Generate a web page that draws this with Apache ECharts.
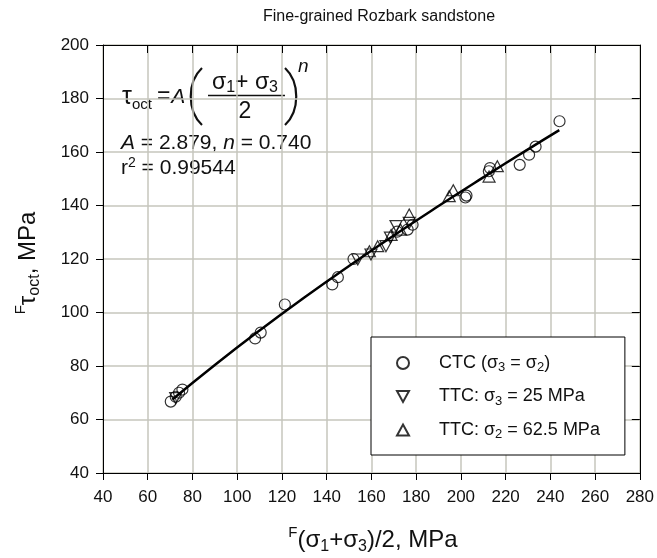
<!DOCTYPE html>
<html>
<head>
<meta charset="utf-8">
<script src="https://cdn.jsdelivr.net/npm/echarts@6/dist/echarts.min.js"></script>
<style>html,body{margin:0;padding:0;background:#fff}#c{width:657px;height:558px}</style>
</head>
<body>
<div id="c"></div>
<script>
// ---- data ----
const ctcX = [70.3, 72.5, 74, 75.5, 108, 110.5, 121.3, 142.5, 145, 152, 171.5, 176.2, 178.4, 202, 202.5, 212.5, 213, 226.3, 230.5, 233.4, 244.1];
const ctcY = [66.7, 68.5, 70, 71.2, 90.3, 92.5, 103, 110.5, 113.2, 120, 130.2, 131, 132.8, 143, 143.7, 152.8, 154, 155.2, 159, 162, 171.5];
const ttc25X = [72.5, 153.9, 159.8, 166.5, 168.5, 171, 176.9];
const ttc25Y = [68, 119.8, 121.7, 124.8, 128, 132.3, 133.5];
const ttc625X = [159.1, 162.8, 168.8, 173, 176.9, 194.8, 196.6, 212.6, 216.3];
const ttc625Y = [122.9, 124.8, 129, 131, 136.6, 143.5, 145.7, 150.8, 154.7];
const fitX = [71, 90, 110, 130, 150, 170, 190, 210, 230, 244];
const fitY = [67.5, 80.4, 93.3, 105.6, 117.4, 128.8, 139.8, 150.5, 161.0, 168.2];
const xTicks = [40, 60, 80, 100, 120, 140, 160, 180, 200, 220, 240, 260, 280];
const yTicks = [40, 60, 80, 100, 120, 140, 160, 180, 200];

const zip = (a, b) => a.map((v, i) => [v, b[i]]);
const FONT = 'Liberation Sans, Arial, sans-serif';
const TXT = '#111';
const downTri = 'path://M0,0L10,0L5,9Z';
const upTri = 'path://M5,0L10,9L0,9Z';

const chart = echarts.init(document.getElementById('c'));
const gridColor = '#c6c6bc';

const baseX = { type: 'value', min: xTicks[0], max: xTicks[xTicks.length - 1], interval: 20 };
const baseY = { type: 'value', min: yTicks[0], max: yTicks[yTicks.length - 1], interval: 20 };

const legendRich = {
  a: { fontSize: 18, fontFamily: FONT, color: TXT, lineHeight: 22 },
  s: { fontSize: 13, fontFamily: FONT, color: TXT, verticalAlign: 'bottom', lineHeight: 12 }
};
const legendNames = {
  'CTC': '{a|CTC (σ}{s|3}{a| = σ}{s|2}{a|)}',
  'TTC25': '{a|TTC: σ}{s|3}{a| = 25 MPa}',
  'TTC625': '{a|TTC: σ}{s|2}{a| = 62.5 MPa}'
};

const option = {
  backgroundColor: '#fff',
  animation: false,
  title: {
    text: 'Fine-grained Rozbark sandstone',
    left: 374, top: 4, textAlign: 'center',
    textStyle: { fontFamily: FONT, fontSize: 16, fontWeight: 'normal', color: TXT }
  },
  grid: { left: 103, right: 16, top: 45, bottom: 85 },
  xAxis: [
    Object.assign({}, baseX, {
      position: 'bottom',
      axisLine: { show: true, lineStyle: { color: '#000', width: 1 } },
      axisTick: { show: true, inside: false, length: 7, lineStyle: { color: '#000' } },
      axisLabel: { fontFamily: FONT, fontSize: 17, color: TXT, margin: 16 },
      splitLine: { show: true, lineStyle: { color: gridColor, width: 1.5 } }
    }),
    Object.assign({}, baseX, {
      position: 'top',
      axisLine: { show: true, lineStyle: { color: '#000', width: 1 } },
      axisTick: { show: true, inside: true, length: 8, lineStyle: { color: '#000' } },
      axisLabel: { show: false },
      splitLine: { show: false }
    })
  ],
  yAxis: [
    Object.assign({}, baseY, {
      position: 'left',
      axisLine: { show: true, lineStyle: { color: '#000', width: 1 } },
      axisTick: { show: true, inside: false, length: 7, lineStyle: { color: '#000' } },
      axisLabel: { fontFamily: FONT, fontSize: 17, color: TXT, margin: 14 },
      splitLine: { show: true, lineStyle: { color: gridColor, width: 1.5 } }
    }),
    Object.assign({}, baseY, {
      position: 'right',
      axisLine: { show: true, lineStyle: { color: '#000', width: 1 } },
      axisTick: { show: true, inside: true, length: 8, lineStyle: { color: '#000' } },
      axisLabel: { show: false },
      splitLine: { show: false }
    })
  ],
  legend: {
    data: ['CTC', 'TTC25', 'TTC625'],
    orient: 'vertical',
    left: 371, top: 337,
    padding: [17, 25, 14, 25],
    itemGap: 13.5,
    itemWidth: 12, itemHeight: 12,
    backgroundColor: '#fff',
    borderColor: '#000', borderWidth: 1, borderRadius: 0,
    formatter: n => legendNames[n],
    textStyle: { rich: legendRich, padding: [0, 0, 0, 25] }
  },
  series: [
    {
      name: 'fit', type: 'line', data: zip(fitX, fitY), smooth: true,
      showSymbol: false, symbol: 'none', z: 2,
      lineStyle: { color: '#000', width: 2.5 }
    },
    {
      name: 'CTC', type: 'scatter', data: zip(ctcX, ctcY), symbol: 'circle', symbolSize: 11, z: 3,
      itemStyle: { color: 'rgba(255,255,255,0)', borderColor: '#000', borderWidth: 1.2 }
    },
    {
      name: 'TTC25', type: 'scatter', data: zip(ttc25X, ttc25Y), symbol: downTri, symbolSize: [12, 11], z: 3,
      itemStyle: { color: 'rgba(255,255,255,0)', borderColor: '#000', borderWidth: 1.2 }
    },
    {
      name: 'TTC625', type: 'scatter', data: zip(ttc625X, ttc625Y), symbol: upTri, symbolSize: [12, 11], z: 3,
      itemStyle: { color: 'rgba(255,255,255,0)', borderColor: '#000', borderWidth: 1.2 }
    }
  ],
  graphic: [
    {
      type: 'text', x: 28, y: 263, rotation: Math.PI / 2,
      style: {
        text: '{sup|F}{m|τ}{sub|oct}{m|, MPa}',
        align: 'center', verticalAlign: 'middle',
        rich: {
          m: { fontSize: 24, fontFamily: FONT, fill: TXT, lineHeight: 30, verticalAlign: 'middle' },
          sub: { fontSize: 16, fontFamily: FONT, fill: TXT, lineHeight: 16, verticalAlign: 'bottom' },
          sup: { fontSize: 15, fontFamily: FONT, fill: TXT, lineHeight: 15, verticalAlign: 'top' }
        }
      }
    },
    {
      type: 'text', x: 373, y: 540,
      style: {
        text: '{sup|F}{m|(σ}{sub|1}{m|+σ}{sub|3}{m|)/2, MPa}',
        align: 'center', verticalAlign: 'middle',
        rich: {
          m: { fontSize: 24, fontFamily: FONT, fill: TXT, lineHeight: 30, verticalAlign: 'middle' },
          sub: { fontSize: 16, fontFamily: FONT, fill: TXT, lineHeight: 16, verticalAlign: 'bottom' },
          sup: { fontSize: 15, fontFamily: FONT, fill: TXT, lineHeight: 15, verticalAlign: 'top' }
        }
      }
    },
    {
      type: 'text', x: 122, y: 97,
      style: {
        text: '{t|τ}{sub|oct}{m|=}{i|A}',
        align: 'left', verticalAlign: 'middle',
        rich: {
          t: { fontSize: 25, fontFamily: FONT, fill: TXT, lineHeight: 30, verticalAlign: 'middle' },
          m: { fontSize: 23, fontFamily: FONT, fill: TXT, lineHeight: 30, verticalAlign: 'middle', padding: [0, 1, 0, 5] },
          i: { fontSize: 21, fontFamily: FONT, fontStyle: 'italic', fill: TXT, lineHeight: 30, verticalAlign: 'middle' },
          sub: { fontSize: 15, fontFamily: FONT, fill: TXT, lineHeight: 15, verticalAlign: 'bottom' }
        }
      }
    },
    {
      type: 'bezierCurve',
      shape: { x1: 202, y1: 68, cpx1: 187, cpy1: 82, cpx2: 187, cpy2: 111, x2: 202, y2: 125 },
      style: { stroke: TXT, lineWidth: 2.2, fill: null }
    },
    {
      type: 'bezierCurve',
      shape: { x1: 285, y1: 68, cpx1: 300, cpy1: 82, cpx2: 300, cpy2: 111, x2: 285, y2: 125 },
      style: { stroke: TXT, lineWidth: 2.2, fill: null }
    },
    {
      type: 'text', x: 212, y: 83,
      style: {
        text: '{m|σ}{sub|1}{m|+ σ}{sub|3}',
        align: 'left', verticalAlign: 'middle',
        rich: {
          m: { fontSize: 23, fontFamily: FONT, fill: TXT, lineHeight: 26, verticalAlign: 'middle' },
          sub: { fontSize: 16, fontFamily: FONT, fill: TXT, lineHeight: 16, verticalAlign: 'bottom' }
        }
      }
    },
    { type: 'line', shape: { x1: 208, y1: 95.5, x2: 285, y2: 95.5 }, style: { stroke: TXT, lineWidth: 1.5 } },
    {
      type: 'text', x: 245, y: 112,
      style: { text: '2', align: 'center', verticalAlign: 'middle', fontSize: 23, fontFamily: FONT, fill: TXT }
    },
    {
      type: 'text', x: 298, y: 67,
      style: { text: 'n', align: 'left', verticalAlign: 'middle', fontSize: 19, fontStyle: 'italic', fontFamily: FONT, fill: TXT }
    },
    {
      type: 'text', x: 121, y: 143,
      style: {
        text: '{i|A}{m| = 2.879, }{i|n}{m| = 0.740}',
        align: 'left', verticalAlign: 'middle',
        rich: {
          m: { fontSize: 21, fontFamily: FONT, fill: TXT },
          i: { fontSize: 21, fontFamily: FONT, fontStyle: 'italic', fill: TXT }
        }
      }
    },
    {
      type: 'text', x: 121, y: 168,
      style: {
        text: '{m|r}{sup|2}{m| = 0.99544}',
        align: 'left', verticalAlign: 'middle',
        rich: {
          m: { fontSize: 21, fontFamily: FONT, fill: TXT, lineHeight: 24, verticalAlign: 'middle' },
          sup: { fontSize: 14, fontFamily: FONT, fill: TXT, lineHeight: 14, verticalAlign: 'top' }
        }
      }
    }
  ]
};
chart.setOption(option);
</script>
</body>
</html>
